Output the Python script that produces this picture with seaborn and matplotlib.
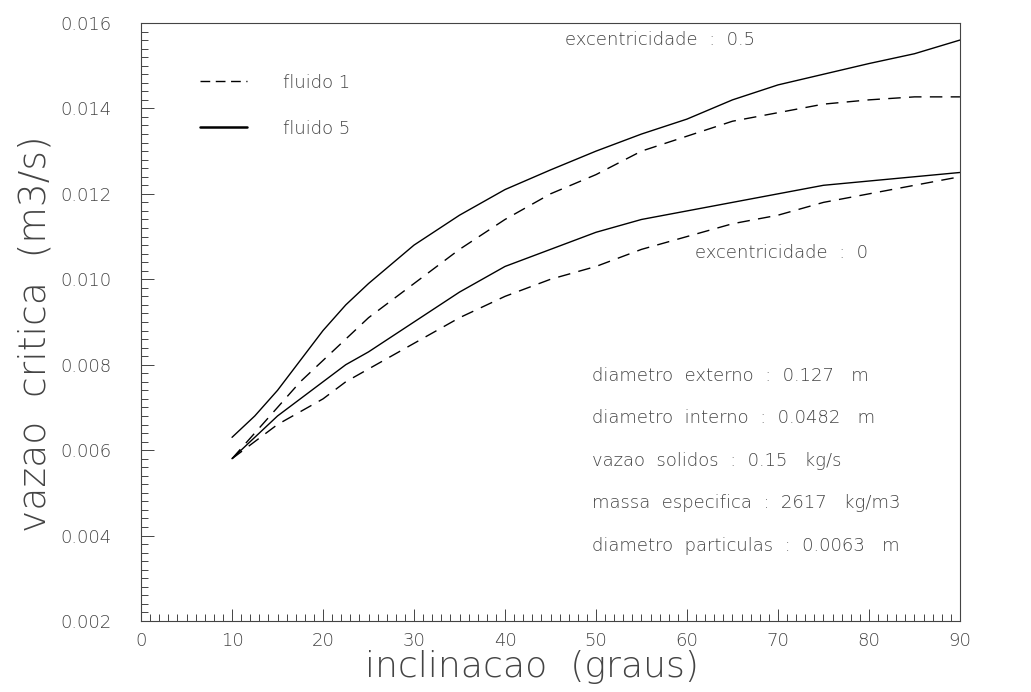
import numpy as np
import pandas as pd
import matplotlib
matplotlib.use("Agg")
import matplotlib.pyplot as plt
import seaborn as sns
from matplotlib.lines import Line2D
from matplotlib.ticker import MultipleLocator, FormatStrFormatter

sns.set_style("ticks")
plt.rcParams['font.family'] = ['DejaVu Sans']

# ---- data ----
inclinacao = [10, 12.5, 15, 17.5, 20, 22.5, 25, 30, 35, 40, 45, 50, 55, 60, 65, 70, 75, 80, 85, 90]

# excentricidade 0.5
exc05_fluido5 = [0.0063, 0.0068, 0.0074, 0.0081, 0.0088, 0.0094, 0.0099, 0.0108, 0.0115, 0.0121,
                 0.01256, 0.0130, 0.0134, 0.01375, 0.0142, 0.01455, 0.0148, 0.01505, 0.01528, 0.0156]
exc05_fluido1 = [0.0058, 0.0064, 0.0070, 0.0076, 0.0081, 0.0086, 0.0091, 0.0099, 0.0107, 0.0114,
                 0.0120, 0.01245, 0.0130, 0.01335, 0.0137, 0.0139, 0.0141, 0.0142, 0.01427, 0.01427]
# excentricidade 0
exc0_fluido5 = [0.0058, 0.0063, 0.0068, 0.0072, 0.0076, 0.0080, 0.0083, 0.0090, 0.0097, 0.0103,
                0.0107, 0.0111, 0.0114, 0.0116, 0.0118, 0.0120, 0.0122, 0.0123, 0.0124, 0.0125]
exc0_fluido1 = [0.0058, 0.0062, 0.0066, 0.0069, 0.0072, 0.0076, 0.0079, 0.0085, 0.0091, 0.0096,
                0.0100, 0.0103, 0.0107, 0.0110, 0.0113, 0.0115, 0.0118, 0.0120, 0.0122, 0.0124]

param_lines = [
    "diametro  externo  :  0.127   m",
    "diametro  interno  :  0.0482   m",
    "vazao  solidos  :  0.15   kg/s",
    "massa  especifica  :  2617   kg/m3",
    "diametro  particulas  :  0.0063   m",
]

# long-form table for seaborn
rows = []
for exc, fl, vals in [("0.5", "fluido 5", exc05_fluido5), ("0.5", "fluido 1", exc05_fluido1),
                      ("0", "fluido 5", exc0_fluido5), ("0", "fluido 1", exc0_fluido1)]:
    for x, v in zip(inclinacao, vals):
        rows.append({"inclinacao": x, "vazao": v, "exc": exc, "fluido": fl})
df = pd.DataFrame(rows)

fig = plt.figure(figsize=(10.31, 6.92), dpi=100)
ax = fig.add_axes([0.1368, 0.1026, 0.7943, 0.8642])

ink = "#444444"
fw = 200  # thin lettering like the plotter font
fs = 13

sns.lineplot(data=df, x="inclinacao", y="vazao", units="exc", estimator=None,
             style="fluido", style_order=["fluido 1", "fluido 5"],
             dashes={"fluido 1": (9, 6), "fluido 5": ""},
             color="black", linewidth=1.0, ax=ax, legend=False)

ax.set_xlim(0, 90)
ax.set_ylim(0.002, 0.016)
ax.xaxis.set_major_locator(MultipleLocator(10))
ax.xaxis.set_minor_locator(MultipleLocator(1))
ax.yaxis.set_major_locator(MultipleLocator(0.002))
ax.yaxis.set_minor_locator(MultipleLocator(0.0002))
ax.yaxis.set_major_formatter(FormatStrFormatter('%.3f'))
ax.tick_params(which='both', direction='in', color=ink, width=0.7, labelcolor=ink,
               labelsize=fs)
ax.tick_params(which='major', length=9)
ax.tick_params(which='minor', length=5)
ax.tick_params(axis='y', pad=21)
ax.tick_params(axis='x', pad=8)
for lab in ax.get_xticklabels() + ax.get_yticklabels():
    lab.set_fontweight(fw)
for s in ax.spines.values():
    s.set_linewidth(0.8)
    s.set_color(ink)

ax.set_xlabel("inclinacao  (graus)", fontsize=26, color=ink, fontweight=fw, labelpad=0)
ax.set_ylabel("vazao  critica  (m3/s)", fontsize=27, color=ink, fontweight=fw, labelpad=6)
ax.xaxis.label.set_position((0.478, 0))
ax.yaxis.label.set_position((0, 0.48))

# legend
handles = [Line2D([], [], color="black", lw=1.0, dashes=(7, 4)),
           Line2D([], [], color="black", lw=1.8)]
leg = ax.legend(handles, ["fluido 1", "fluido 5"], loc="upper left",
                bbox_to_anchor=(0.072, 0.915), frameon=False, handlelength=2.6,
                handletextpad=2.0, labelspacing=1.55, fontsize=fs, labelcolor=ink,
                borderpad=0, borderaxespad=0)
for t in leg.get_texts():
    t.set_fontweight(fw)

# annotations
ax.text(46.6, 0.0156, "excentricidade  :  0.5", fontsize=fs, color=ink, va='center',
        fontweight=fw)
ax.text(60.9, 0.01061, "excentricidade  :  0", fontsize=fs, color=ink, va='center',
        fontweight=fw)
y0 = 0.00774
for i, line in enumerate(param_lines):
    ax.text(49.6, y0 - i * 0.000995, line, fontsize=fs, color=ink, va='center', fontweight=fw)

fig.savefig("out.png", dpi=100)
